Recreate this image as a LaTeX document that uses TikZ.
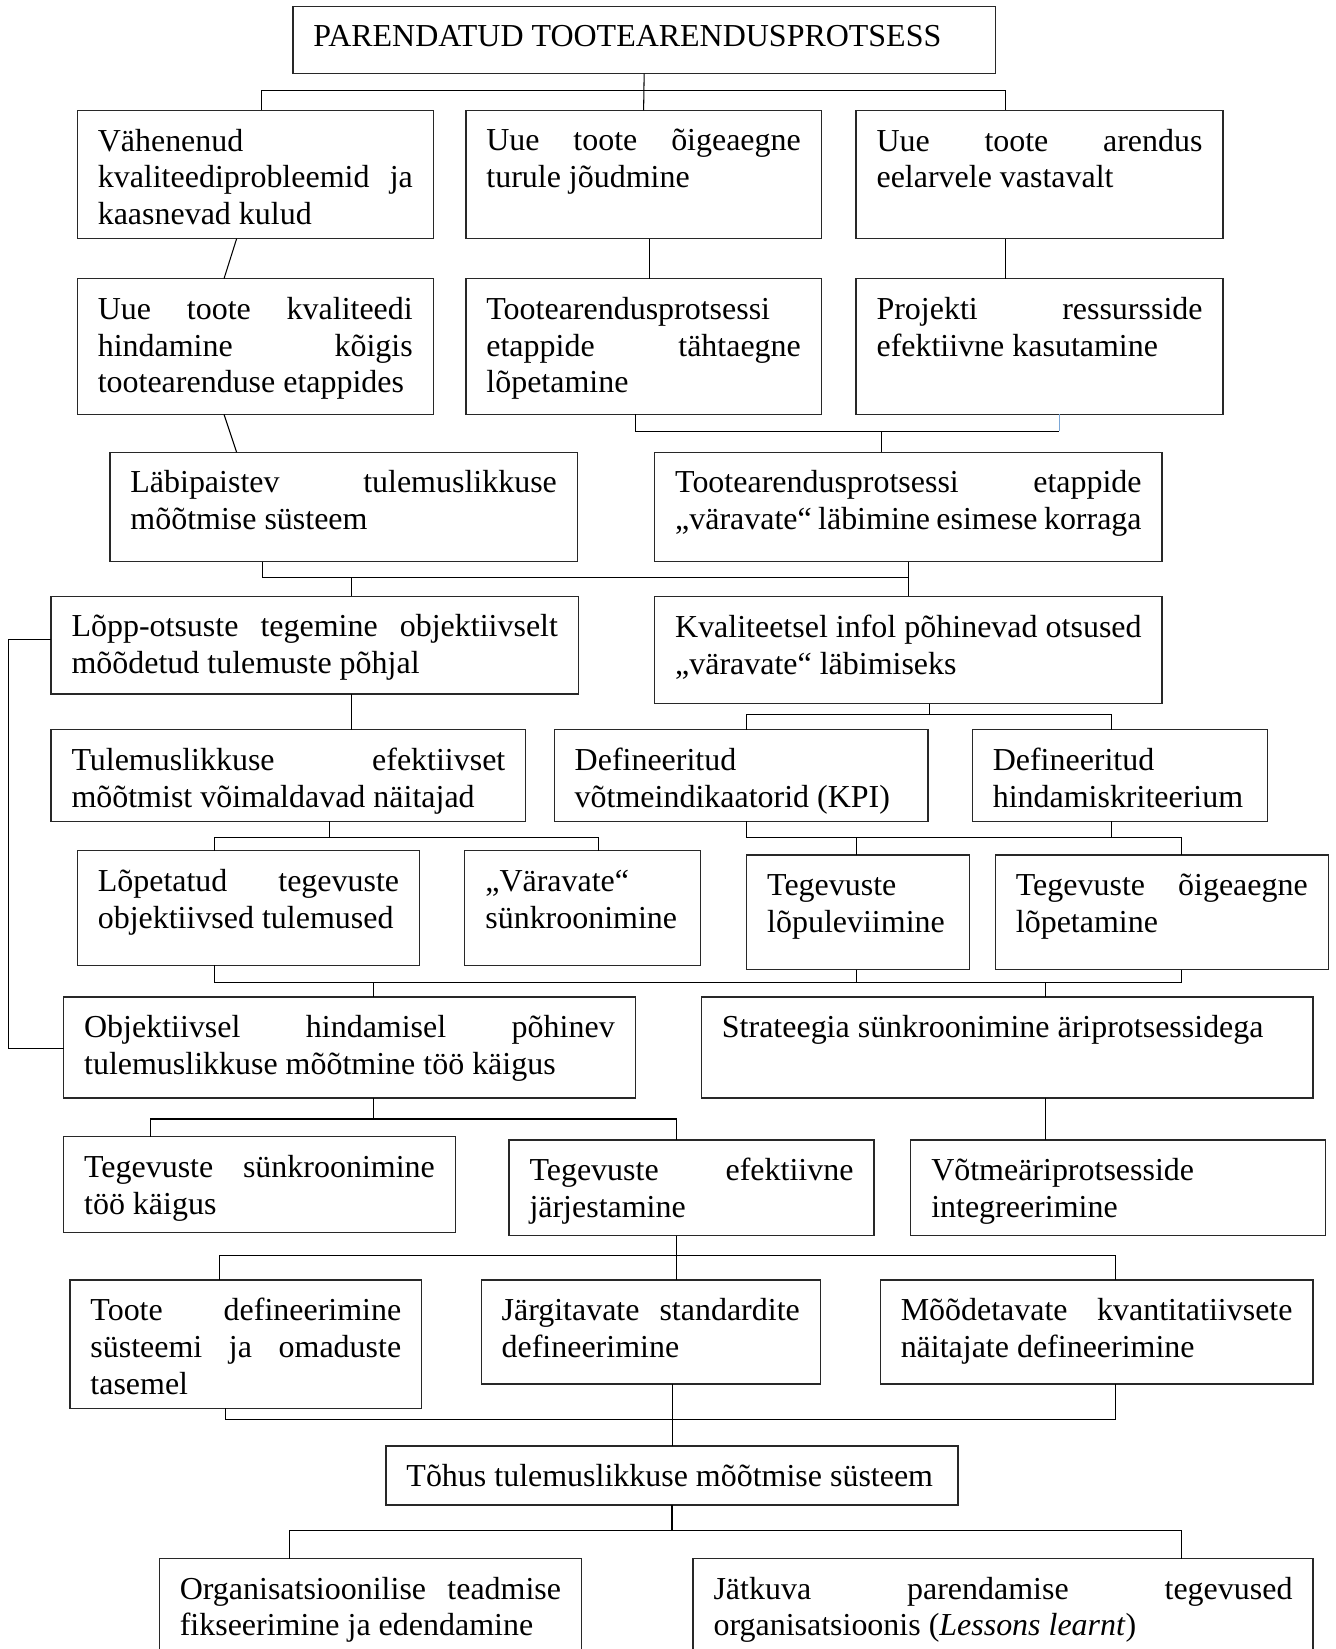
\documentclass[tikz,border=0pt]{standalone}
\usepackage{fontspec}
\setmainfont{Liberation Serif}
\definecolor{linkblue}{RGB}{122,166,214}
\definecolor{boxline}{RGB}{40,40,40}
% one justified (stretched) line inside a box
\newcommand\jl[1]{\makebox[\linewidth][s]{#1}\\}
% framed text box: name, x1, y1, x2, y2, text (top-left aligned text)
\newcommand\tbox[6]{%
  \node[tb] (#1) at (#2,#3)
    {\parbox[c][\dimexpr #5pt-#3pt-35pt\relax][t]{\dimexpr #4pt-#2pt-39pt\relax}{\rule{0pt}{21pt}#6}};}
\begin{document}
\begin{tikzpicture}[x=1pt,y=-1pt,line width=1pt,
  font=\fontsize{30.4}{35}\selectfont,
  tb/.style={draw=boxline, line width=1.2pt, rectangle, anchor=north west,
    inner xsep=19.5pt, inner ysep=17.5pt, outer sep=0pt}]
\useasboundingbox (0,0) rectangle (1270,1568);
\clip (0,0) rectangle (1270,1568);
\fill[white] (0,0) rectangle (1270,1568);

% ---- boxes ----
\tbox{title}{278.5}{6}{946.5}{70}{PARENDATUD TOOTEARENDUSPROTSESS}
\tbox{a1}{73.5}{105}{412}{227}{Vähenenud\\\jl{kvaliteediprobleemid ja}kaasnevad kulud}
\tbox{a2}{443}{105}{781}{227}{\jl{Uue toote õigeaegne}turule jõudmine}
\tbox{a3}{814}{105}{1163}{227}{\jl{Uue toote arendus}eelarvele vastavalt}
\tbox{b1}{73.5}{265}{412}{394}{\jl{Uue toote kvaliteedi}\jl{hindamine kõigis}tootearenduse etappides}
\tbox{b2}{443}{265}{781}{394}{Tootearendusprotsessi\\\jl{etappide tähtaegne}lõpetamine}
\tbox{b3}{814}{265}{1163}{394}{\jl{Projekti ressursside}efektiivne kasutamine}
\tbox{c1}{104.5}{430}{549}{534}{\jl{Läbipaistev tulemuslikkuse}mõõtmise süsteem}
\tbox{c2}{622.5}{430}{1105}{534}{\jl{Tootearendusprotsessi etappide}„väravate“ läbimine esimese korraga}
\tbox{d1}{48.5}{567}{550}{660}{\jl{Lõpp-otsuste tegemine objektiivselt}mõõdetud tulemuste põhjal}
\tbox{d2}{622.5}{567}{1105}{669}{\jl{Kvaliteetsel infol põhinevad otsused}„väravate“ läbimiseks}
\tbox{e1}{48.5}{694}{500}{781}{\jl{Tulemuslikkuse efektiivset}mõõtmist võimaldavad näitajad}
\tbox{e2}{527}{694}{882.5}{781}{Defineeritud\\võtmeindikaatorid (KPI)}
\tbox{e3}{924.5}{694}{1205.5}{781}{Defineeritud\\hindamiskriteerium}
\tbox{f1}{73.5}{809}{399}{918}{\jl{Lõpetatud tegevuste}objektiivsed tulemused}
\tbox{f2}{442}{809}{666}{918}{„Väravate“\\sünkroonimine}
\tbox{f3}{710}{813}{922}{922}{Tegevuste\\lõpuleviimine}
\tbox{f4}{946.5}{813}{1263}{922}{\jl{Tegevuste õigeaegne}lõpetamine}
\tbox{g1}{60.5}{948}{604}{1044}{\jl{Objektiivsel hindamisel põhinev}tulemuslikkuse mõõtmine töö käigus}
\tbox{g2}{667}{948}{1248.5}{1044}{Strateegia sünkroonimine äriprotsessidega}
\tbox{h1}{60.5}{1081}{433}{1172}{\jl{Tegevuste sünkroonimine}töö käigus}
\tbox{h2}{484}{1084}{831}{1175}{\jl{Tegevuste efektiivne}järjestamine}
\tbox{h3}{866}{1084}{1260.5}{1175}{Võtmeäriprotsesside\\integreerimine}
\tbox{i1}{66.5}{1217}{401}{1339}{\jl{Toote defineerimine}\jl{süsteemi ja omaduste}tasemel}
\tbox{i2}{457.5}{1217}{780}{1316}{\jl{Järgitavate standardite}defineerimine}
\tbox{i3}{837}{1217}{1248.5}{1316}{\jl{Mõõdetavate kvantitatiivsete}näitajate defineerimine}
\tbox{j}{367}{1375}{911}{1431}{Tõhus tulemuslikkuse mõõtmise süsteem}
\tbox{k1}{151.5}{1482}{553}{1620}{\jl{Organisatsioonilise teadmise}fikseerimine ja edendamine}
\tbox{k2}{659}{1482}{1248.5}{1620}{\jl{Jätkuva parendamise tegevused}organisatsioonis (\textit{Lessons learnt})}

% ---- bus points of the connectors ----
\coordinate (L1a) at (248.6,86);  \coordinate (L1b) at (956,86);
\coordinate (L2a) at (604,410);   \coordinate (L2b) at (1007,410); \coordinate (L2c) at (838,410);
\coordinate (L3a) at (249.4,549); \coordinate (L3c) at (334.4,549);
\coordinate (FBa) at (8,608);     \coordinate (FBb) at (8,997);
\coordinate (L4a) at (710,679);   \coordinate (L4b) at (1056.7,679); \coordinate (L4c) at (883.4,679);
\coordinate (L5a) at (204,796);   \coordinate (L5b) at (569,796);  \coordinate (L5c) at (313.4,796);
\coordinate (L5d) at (710,796);   \coordinate (L5e) at (1123,796); \coordinate (L5f) at (1056.7,796);
\coordinate (L5g) at (814.6,796);
\coordinate (L6a) at (204,934);   \coordinate (L6b) at (1123,934); \coordinate (L6c) at (354.7,934);
\coordinate (L6d) at (994.3,934); \coordinate (L6e) at (814.6,934);
\coordinate (L7a) at (143.3,1064); \coordinate (L7b) at (643.7,1064); \coordinate (L7c) at (354.7,1064);
\coordinate (L8a) at (209,1194);  \coordinate (L8b) at (1060.7,1194); \coordinate (L8c) at (643.7,1194);
\coordinate (L9a) at (214.6,1350); \coordinate (L9b) at (1060.7,1350); \coordinate (L9c) at (639.7,1350);
\coordinate (L10a) at (275.3,1455); \coordinate (L10b) at (1123,1455);

% ---- connectors ----
\draw (title.south) -- (a2.north);
\draw (a1.north -| L1a) -- (L1a) -- (L1b) -- (a3.north -| L1b);
\draw ([xshift=-17.75pt]a1.south) -- ([xshift=-29.75pt]b1.north);
\draw ([xshift=6pt]a2.south) -- ([xshift=6pt]b2.north);
\draw (a3.south -| L1b) -- (b3.north -| L1b);

\draw ([xshift=-29.75pt]b1.south) -- ([xshift=-101.75pt]c1.north);
\draw (b2.south -| L2a) -- (L2a) -- (L2b);
\draw[linkblue] (L2b) -- (b3.south -| L2b);
\draw (L2c) -- (c2.north -| L2c);

\draw (c1.south -| L3a) -- (L3a) -- (L3a -| c2.south);
\draw (c2.south) -- (d2.north);
\draw (L3c) -- (d1.north -| L3c);
\draw (d1.west |- FBa) -- (FBa) -- (FBb) -- (g1.west |- FBb);

\draw (d1.south -| L3c) -- (e1.north -| L3c);
\draw (d2.south -| L4c) -- (L4c);
\draw (e2.north -| L4a) -- (L4a) -- (L4b) -- (e3.north -| L4b);

\draw (e1.south -| L5c) -- (L5c);
\draw (f1.north -| L5a) -- (L5a) -- (L5b) -- (f2.north -| L5b);
\draw (e2.south -| L5d) -- (L5d) -- (L5e) -- (f4.north -| L5e);
\draw (e3.south -| L5f) -- (L5f);
\draw (L5g) -- (f3.north -| L5g);

\draw (f1.south -| L6a) -- (L6a) -- (L6b) -- (f4.south -| L6b);
\draw (f3.south -| L6e) -- (L6e);
\draw (L6c) -- (g1.north -| L6c);
\draw (L6d) -- (g2.north -| L6d);

\draw (g1.south -| L7c) -- (L7c);
\draw (h1.north -| L7a) -- (L7a) -- (L7b) -- (h2.north -| L7b);
\draw (g2.south -| L6d) -- (h3.north -| L6d);

\draw (h2.south -| L8c) -- (i2.north -| L8c);
\draw (i1.north -| L8a) -- (L8a) -- (L8b) -- (i3.north -| L8b);

\draw (i1.south -| L9a) -- (L9a) -- (L9b) -- (i3.south -| L9b);
\draw (i2.south -| L9c) -- (j.north -| L9c);

\draw (j.south) -- (j.south |- L10a);
\draw (k1.north -| L10a) -- (L10a) -- (L10b) -- (k2.north -| L10b);
\end{tikzpicture}
\end{document}
